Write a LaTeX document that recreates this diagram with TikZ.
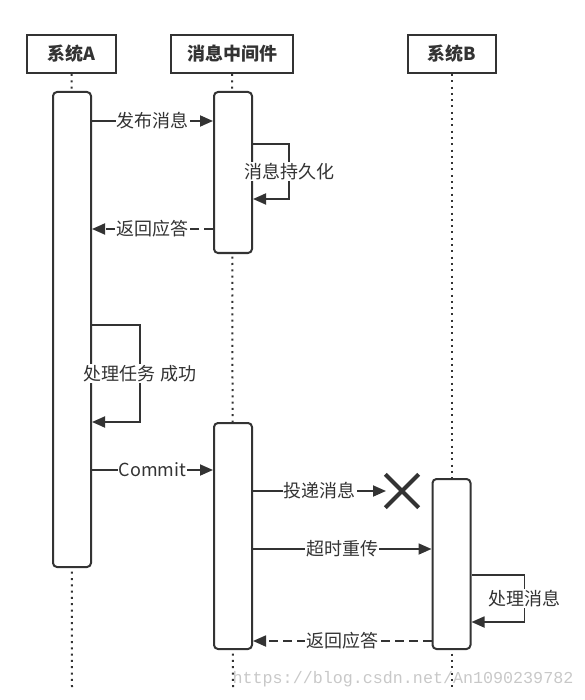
\documentclass[tikz,border=0pt]{standalone}
\usepackage{fontspec}
\setmainfont{Noto Sans CJK SC}
\newfontfamily\wmfont{Liberation Mono}
\usetikzlibrary{arrows.meta}
\definecolor{ink}{HTML}{333333}
\definecolor{wmgray}{HTML}{C8C8C8}
\tikzset{
  hdr/.style={draw=ink, line width=2pt, rectangle, minimum height=38pt, inner sep=0pt,
    font=\fontsize{18}{21}\selectfont\bfseries, text=ink},
  bar/.style={draw=ink, line width=2pt, fill=white, rectangle, rounded corners=4pt,
    minimum width=38pt, inner sep=0pt},
  life/.style={draw=ink, line width=2pt, dash pattern=on 2pt off 4.3pt},
  msg/.style={draw=ink, line width=1.8pt, -{Triangle[length=13pt,width=11pt]}},
  ret/.style={msg, dash pattern=on 9pt off 5pt},
  lbl/.style={fill=white, inner sep=1pt, text=ink, font=\fontsize{18}{21}\selectfont},
  cross/.style={draw=ink, line width=4pt}
}
\begin{document}
\begin{tikzpicture}[x=1pt,y=-1pt]
\useasboundingbox (0,0) rectangle (585,700);
% headers
\node[hdr, minimum width=89pt] (hA) at (71.5,54) {系统A};
\node[hdr, minimum width=122pt] (hM) at (232,54) {消息中间件};
\node[hdr, minimum width=88pt] (hB) at (452,54) {系统B};
% lifeline ends
\coordinate (eA) at (72,688);
\coordinate (eM) at (233,688);
\coordinate (eB) at (452,688);
\draw[life] (hA.south) -- (eA);
\draw[life] (hM.south) -- (eM);
\draw[life] (hB.south) -- (eB);
% activation bars
\node[bar, minimum height=475pt] (bA) at (72,329.5) {};
\node[bar, minimum height=161pt] (bM1) at (233,172.5) {};
\node[bar, minimum height=226pt] (bM2) at (233,536) {};
\node[bar, minimum height=170pt] (bB) at (451.5,564) {};
% message levels
\coordinate (y1) at (0,121);
\coordinate (y2) at (0,144);
\coordinate (y3) at (0,199);
\coordinate (y4) at (0,229);
\coordinate (y5) at (0,325);
\coordinate (y6) at (0,422);
\coordinate (y7) at (0,470);
\coordinate (y8) at (0,491);
\coordinate (y9) at (0,549);
\coordinate (y10) at (0,575);
\coordinate (y11) at (0,622);
\coordinate (y12) at (0,641);
\coordinate (lost) at (386,491);
% messages
\draw[msg] (bA.east |- y1) -- node[lbl]{发布消息} (bM1.west |- y1);
\draw[msg] (bM1.east |- y2) -- ++(36,0) -- ++(0,55) node[midway,lbl]{消息持久化} -- (bM1.east |- y3);
\draw[ret] (bM1.west |- y4) -- node[lbl]{返回应答} (bA.east |- y4);
\draw[msg] (bA.east |- y5) -- ++(48,0) -- ++(0,97) node[midway,lbl]{处理任务 成功} -- (bA.east |- y6);
\draw[msg] (bA.east |- y7) -- node[lbl]{Commit} (bM2.west |- y7);
\draw[msg] (bM2.east |- y8) -- node[lbl]{投递消息} (lost);
\node[minimum size=33pt, inner sep=0pt] (xm) at (402,491) {};
\draw[cross] (xm.north west) -- (xm.south east);
\draw[cross] (xm.north east) -- (xm.south west);
\draw[msg] (bM2.east |- y9) -- node[lbl]{超时重传} (bB.west |- y9);
\draw[msg] (bB.east |- y10) -- ++(53,0) -- ++(0,47) node[midway,lbl]{处理消息} -- (bB.east |- y11);
\draw[ret] (bB.west |- y12) -- node[lbl]{返回应答} (bM2.east |- y12);
% watermark
\node[text=wmgray, font=\wmfont\fontsize{16.7}{19}\selectfont, inner sep=0pt] (wm) at (403,679) {https://blog.csdn.net/An1090239782};
\end{tikzpicture}
\end{document}
